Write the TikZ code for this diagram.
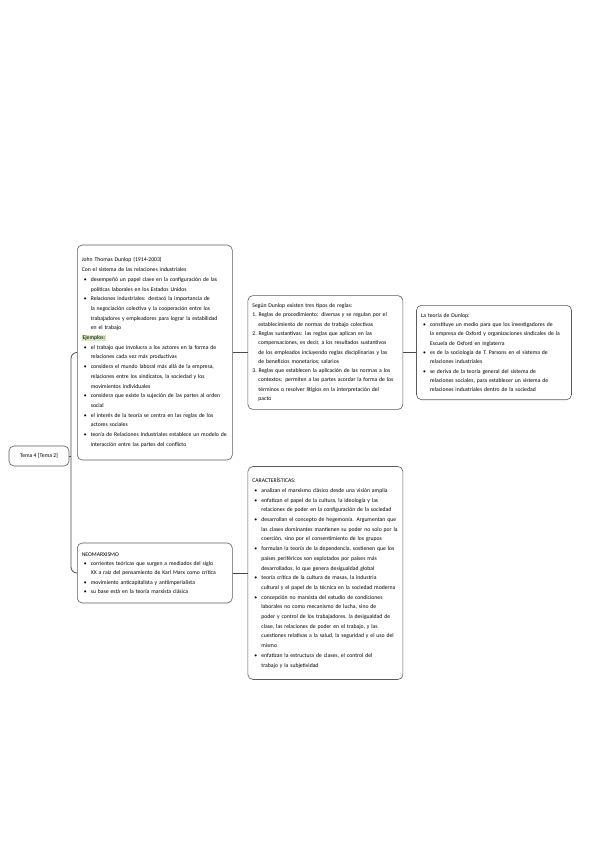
\documentclass[tikz,border=0pt]{standalone}
\usepackage{fontspec}
\setmainfont{Carlito}
\usepackage{tikz}
\usetikzlibrary{positioning}
\definecolor{mapline}{HTML}{4A4A4A}
\definecolor{mapedge}{HTML}{5C5C5C}
\definecolor{maphl}{HTML}{D5EBC1}
\setlength{\parindent}{0pt}
\newcommand{\bitem}{\par\hangindent=9pt\hangafter=1\noindent\hspace*{2pt}\makebox[7pt][l]{\textbullet}}
\newcommand{\nitem}[1]{\par\hangindent=6pt\hangafter=1\noindent #1~}
\newcommand{\greenmark}[1]{{\setlength{\fboxsep}{0.8pt}\colorbox{maphl}{#1}}}

\begin{document}
\begin{tikzpicture}[x=1pt,y=-1pt,
  every node/.style={font=\fontsize{5.7}{9.3}\selectfont},
  link/.style={draw=mapline,line width=0.8pt},
  card/.style={draw=mapedge,line width=0.6pt,rounded corners=5pt,fill=white,text width=146pt,align=left,inner xsep=4.5pt,inner ysep=8pt},
  longcard/.style={card,font=\fontsize{5.7}{9.7}\selectfont},
  topic/.style={draw=mapedge,line width=0.6pt,rounded corners=5pt,fill=white,minimum width=60pt,minimum height=20pt,inner sep=2pt}
]
\useasboundingbox (0,0) rectangle (600,848);
\node[topic] (tema) at (39,456) {Tema 4 [Tema 2]};
\node[longcard,anchor=west,minimum height=215pt] (dunlop) at (77,352.5) {John Thomas Dunlop (1914-2003)\par
Con el sistema de las relaciones industriales
\bitem desempeñó un papel clave en la configuración de las\newline políticas laborales en los Estados Unidos
\bitem Relaciones industriales: destacó la importancia de\newline la negociación colectiva y la cooperación entre los\newline trabajadores y empleadores para lograr la estabilidad\newline en el trabajo\par
\greenmark{Ejemplos:}
\bitem el trabajo que involucra a los actores en la forma de\newline relaciones cada vez más productivas
\bitem considera el mundo laboral más allá de la empresa,\newline relaciones entre los sindicatos, la sociedad y los\newline movimientos individuales
\bitem considera que existe la sujeción de las partes al orden\newline social
\bitem el interés de la teoría se centra en las reglas de los\newline actores sociales
\bitem teoría de Relaciones Industriales establece un modelo de\newline interacción entre las partes del conflicto\par};
\node[card,right=15pt of dunlop] (reglas) {Según Dunlop existen tres tipos de reglas:
\nitem{1.}Reglas de procedimiento: diversas y se regulan por el\newline establecimiento de normas de trabajo colectivas
\nitem{2.}Reglas sustantivas: las reglas que aplican en las\newline compensaciones, es decir, a los resultados sustantivos\newline de los empleados incluyendo reglas disciplinarias y las\newline de beneficios monetarios; salarios
\nitem{3.}Reglas que establecen la aplicación de las normas a los\newline contextos: permiten a las partes acordar la forma de los\newline términos o resolver litigios en la interpretación del\newline pacto\par};
\node[card,right=13pt of reglas] (teoria) {La teoría de Dunlop:
\bitem constituye un medio para que los investigadores de\newline la empresa de Oxford y organizaciones sindicales de la\newline Escuela de Oxford en Inglaterra
\bitem es de la sociología de T. Parsons en el sistema de\newline relaciones industriales
\bitem se deriva de la teoría general del sistema de\newline relaciones sociales, para establecer un sistema de\newline relaciones industriales dentro de la sociedad\par};
\node[card,anchor=west,minimum height=60pt] (neomarx) at (77,573) {NEOMARXISMO
\bitem corrientes teóricas que surgen a mediados del siglo\newline XX a raíz del pensamiento de Karl Marx como crítica
\bitem movimiento anticapitalista y antiimperialista
\bitem su base está en la teoría marxista clásica\par};
\node[longcard,right=15pt of neomarx,minimum height=213pt] (rasgos) {CARACTERÍSTICAS:
\bitem analizan el marxismo clásico desde una visión amplia
\bitem enfatizan el papel de la cultura, la ideología y las\newline relaciones de poder en la configuración de la sociedad
\bitem desarrollan el concepto de hegemonía. Argumentan que\newline las clases dominantes mantienen su poder no solo por la\newline coerción, sino por el consentimiento de los grupos
\bitem formulan la teoría de la dependencia, sostienen que los\newline países periféricos son explotados por países más\newline desarrollados, lo que genera desigualdad global
\bitem teoría crítica de la cultura de masas, la industria\newline cultural y el papel de la técnica en la sociedad moderna
\bitem concepción no marxista del estudio de condiciones\newline laborales no como mecanismo de lucha, sino de\newline poder y control de los trabajadores, la desigualdad de\newline clase, las relaciones de poder en el trabajo, y las\newline cuestiones relativas a la salud, la seguridad y el uso del\newline mismo
\bitem enfatizan la estructura de clases, el control del\newline trabajo y la subjetividad\par};
\coordinate (brace) at (71,456);
\draw[link] (tema.east) -- (brace);
\draw[link,rounded corners=6pt] (dunlop.west) -| (brace) |- (neomarx.west);
\draw[link] (dunlop) -- (reglas);
\draw[link] (reglas) -- (teoria);
\draw[link] (neomarx) -- (rasgos);
\end{tikzpicture}
\end{document}
